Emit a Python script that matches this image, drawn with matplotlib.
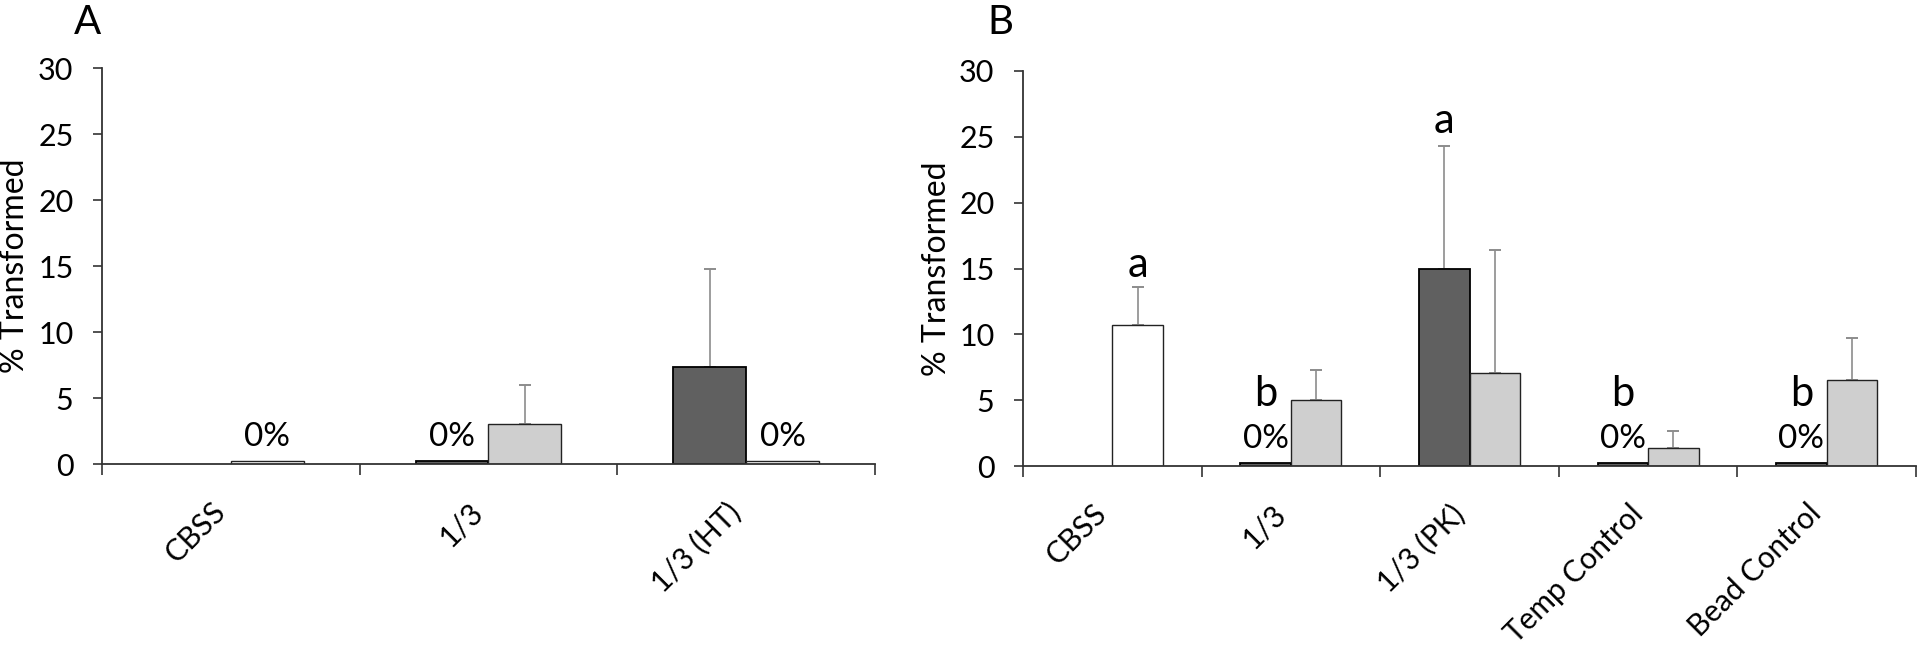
import numpy as np
import matplotlib
matplotlib.use('Agg')
import matplotlib.pyplot as plt

plt.rcParams['font.family'] = ['Lato', 'DejaVu Sans']

# ---- Panel A data ----
cats_a = ['CBSS', '1/3', '1/3 (HT)']
dark_a = [np.nan, 0.25, 7.35]        # left (dark) bars
dark_err_a = [0, 0, 7.45]
right_a = [0.25, 3.0, 0.25]          # right bars
right_err_a = [0, 3.0, 0]
right_col_a = ['white', '#cfcfcf', 'white']
zero_lbl_a = [(0, 'r'), (1, 'l'), (2, 'r')]   # where the "0%" labels sit

# ---- Panel B data ----
cats_b = ['CBSS', '1/3', '1/3 (PK)', 'Temp Control', 'Bead Control']
dark_b = [np.nan, 0.2, 15.0, 0.2, 0.2]
dark_err_b = [0, 0, 9.3, 0, 0]
right_b = [10.7, 5.0, 7.05, 1.35, 6.5]
right_err_b = [2.9, 2.3, 9.35, 1.3, 3.2]
right_col_b = ['white', '#cfcfcf', '#cfcfcf', '#cfcfcf', '#cfcfcf']
zero_lbl_b = [(1, 'l'), (3, 'l'), (4, 'l')]
# significance letters: (category, side, letter, y)
letters_b = [(0, 'r', 'a', 15.3), (1, 'l', 'b', 5.5), (2, 'l', 'a', 26.2),
             (3, 'l', 'b', 5.5), (4, 'l', 'b', 5.5)]

W = 0.283
DARK = '#606060'
AXC = '#333333'


def upper_errors(ax, xs, vals, errs):
    # Excel style: only the plus side, skip the bars without error
    xs = np.asarray(xs, dtype=float)
    vals = np.asarray(vals, dtype=float)
    errs = np.asarray(errs, dtype=float)
    keep = errs > 0
    if not keep.any():
        return
    ax.errorbar(xs[keep], vals[keep], yerr=[np.zeros(keep.sum()), errs[keep]], fmt='none',
                ecolor='#8c8c8c', elinewidth=1.2, capsize=4.5, capthick=1.4, zorder=1)


def draw_panel(ax, cats, dark, dark_err, right, right_err, right_col, zeros, letters=None):
    x = np.arange(len(cats))
    ax.bar(x - W / 2, dark, W, color=DARK, edgecolor='black', linewidth=1.3, zorder=2)
    ax.bar(x + W / 2, right, W, color=right_col, edgecolor='#222222', linewidth=1.0, zorder=2)

    upper_errors(ax, x - W / 2, dark, dark_err)
    upper_errors(ax, x + W / 2, right, right_err)

    for i, side in zeros:
        xx = i - W / 2 if side == 'l' else i + W / 2
        ax.text(xx, 0.9, '0%', ha='center', va='bottom', fontsize=24)

    if letters:
        for i, side, s, y in letters:
            xx = i - W / 2 if side == 'l' else i + W / 2
            ax.text(xx, y, s, ha='center', va='center', fontsize=30)

    ax.set_xlim(-0.5, len(cats) - 0.5)
    ax.set_ylim(0, 30)
    ax.set_yticks([0, 5, 10, 15, 20, 25, 30])
    ax.set_xticks(x)
    ax.set_xticklabels(cats, rotation=45, ha='right', fontsize=21.5)
    ax.set_xticks(np.arange(len(cats) + 1) - 0.5, minor=True)
    ax.tick_params(axis='x', which='major', length=0, pad=24)
    ax.tick_params(axis='x', which='minor', length=8, width=1.2, color=AXC)
    ax.tick_params(axis='y', length=6.5, width=1.2, color=AXC, labelsize=22, pad=14)
    for sp in ['top', 'right']:
        ax.spines[sp].set_visible(False)
    for sp in ['left', 'bottom']:
        ax.spines[sp].set_color(AXC)
        ax.spines[sp].set_linewidth(1.3)
    ax.set_ylabel('% Transformed', fontsize=23)


fig = plt.figure(figsize=(19.2, 6.51), dpi=100)

axA = fig.add_axes([102 / 1920, 1 - 464 / 651, 773 / 1920, 396 / 651])
draw_panel(axA, cats_a, dark_a, dark_err_a, right_a, right_err_a, right_col_a, zero_lbl_a)
axA.yaxis.set_label_coords(-0.093, 0.5)

axB = fig.add_axes([1023 / 1920, 1 - 466 / 651, 893 / 1920, 395 / 651])
draw_panel(axB, cats_b, dark_b, dark_err_b, right_b, right_err_b, right_col_b, zero_lbl_b, letters_b)
axB.yaxis.set_label_coords(-0.0795, 0.5)

fig.text(87 / 1920, 1 - 22 / 651, 'A', ha='center', va='center', fontsize=29)
fig.text(1000 / 1920, 1 - 22 / 651, 'B', ha='center', va='center', fontsize=29)

fig.savefig('out.png', dpi=100, facecolor='white')
